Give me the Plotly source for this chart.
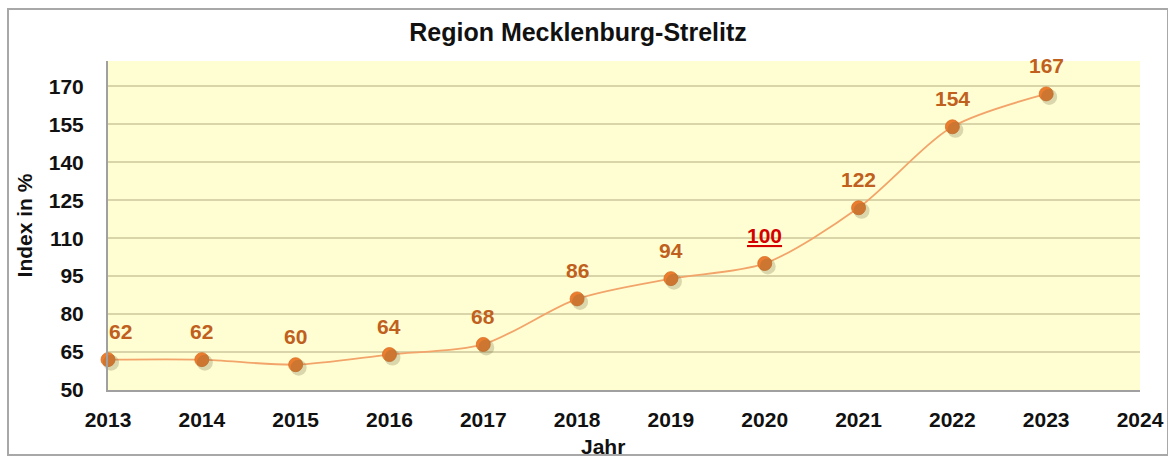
import plotly.graph_objects as go

years = [2013, 2014, 2015, 2016, 2017, 2018, 2019, 2020, 2021, 2022, 2023]
index_vals = [62, 62, 60, 64, 68, 86, 94, 100, 122, 154, 167]
x_ticks = list(range(2013, 2025))
y_ticks = [50, 65, 80, 95, 110, 125, 140, 155, 170]

LABEL_COL = "#C0601E"
MARK_COL = "#EC7D2E"
LINE_COL = "#F2A46A"
FONT = "Liberation Sans, Arial, sans-serif"

PLOT_W = 1168 - 108 - 28
PLOT_H = 459 - 61 - 69
X_RANGE = [2013, 2024]
Y_RANGE = [50, 180]
# shadow offset in pixels, converted to data units
SH_DX = 3 * (X_RANGE[1] - X_RANGE[0]) / PLOT_W
SH_DY = 3 * (Y_RANGE[1] - Y_RANGE[0]) / PLOT_H

fig = go.Figure()

# soft marker shadow on an overlaid axis shifted by a few pixels
fig.add_trace(go.Scatter(
    x=years, y=index_vals, mode="markers", xaxis="x2", yaxis="y2",
    marker=dict(size=16, color="rgba(110,100,60,0.25)"),
    hoverinfo="skip", showlegend=False, cliponaxis=False,
))

fig.add_trace(go.Scatter(
    x=years, y=index_vals, mode="lines+markers",
    line=dict(color=LINE_COL, width=1.8, shape="spline", smoothing=0.8),
    marker=dict(size=14, color=MARK_COL, line=dict(width=0.8, color="#D86E24")),
    hoverinfo="x+y", showlegend=False, cliponaxis=False,
))

for i, (x, y) in enumerate(zip(years, index_vals)):
    is_ref = (y == 100)
    txt = f"<u>{y}</u>" if is_ref else str(y)
    fig.add_annotation(
        x=x, y=y, text=f"<b>{txt}</b>", showarrow=False,
        yshift=28, xshift=12 if i == 0 else 0,
        font=dict(family=FONT, size=21, color="#D40000" if is_ref else LABEL_COL),
    )

fig.add_annotation(
    x=(603 - 108) / PLOT_W, y=-(446 - 390) / PLOT_H, xref="paper", yref="paper",
    text="<b>Jahr</b>", showarrow=False, yanchor="middle",
    font=dict(family=FONT, size=21, color="#111111"),
)

fig.update_layout(
    width=1168, height=459,
    margin=dict(l=108, r=28, t=61, b=69, autoexpand=False),
    paper_bgcolor="white",
    plot_bgcolor="#FFFED2",
    title=dict(text="<b>Region Mecklenburg-Strelitz</b>", x=578 / 1168, xref="container",
               y=1 - 32 / 459, yref="container", yanchor="middle", xanchor="center",
               font=dict(family=FONT, size=25, color="#111111")),
    font=dict(family=FONT),
    shapes=[dict(type="rect", xref="paper", yref="paper",
                 x0=-100 / PLOT_W, x1=1.0 + 28 / PLOT_W, y0=-65 / PLOT_H, y1=1 + 52 / PLOT_H,
                 line=dict(color="#A8A8A8", width=2), fillcolor="rgba(0,0,0,0)",
                 layer="below")],
    xaxis2=dict(overlaying="x", range=[X_RANGE[0] - SH_DX, X_RANGE[1] - SH_DX],
                visible=False, showgrid=False, automargin=False),
    yaxis2=dict(overlaying="y", range=[Y_RANGE[0] + SH_DY, Y_RANGE[1] + SH_DY],
                visible=False, showgrid=False, automargin=False),
    yaxis=dict(
        range=Y_RANGE, tickmode="array", tickvals=y_ticks,
        ticktext=[f"<b>{t}</b>" for t in y_ticks],
        showgrid=True, gridcolor="#D9D5A8", gridwidth=2, zeroline=False,
        showline=True, linecolor="#A0A0A0", linewidth=2,
        tickfont=dict(family=FONT, size=21, color="#111111"),
        ticks="", ticklabelstandoff=18, automargin=False,
        title=dict(text="<b>Index in %</b>", standoff=10,
                   font=dict(family=FONT, size=21, color="#111111")),
    ),
    xaxis=dict(
        range=X_RANGE, tickmode="array", tickvals=x_ticks,
        ticktext=[f"<b>{t}</b>" for t in x_ticks],
        showgrid=False, zeroline=False,
        showline=True, linecolor="#A0A0A0", linewidth=2,
        tickfont=dict(family=FONT, size=21, color="#111111"),
        ticks="", ticklabelstandoff=10, automargin=False,
    ),
)

fig.write_html("out.html")
